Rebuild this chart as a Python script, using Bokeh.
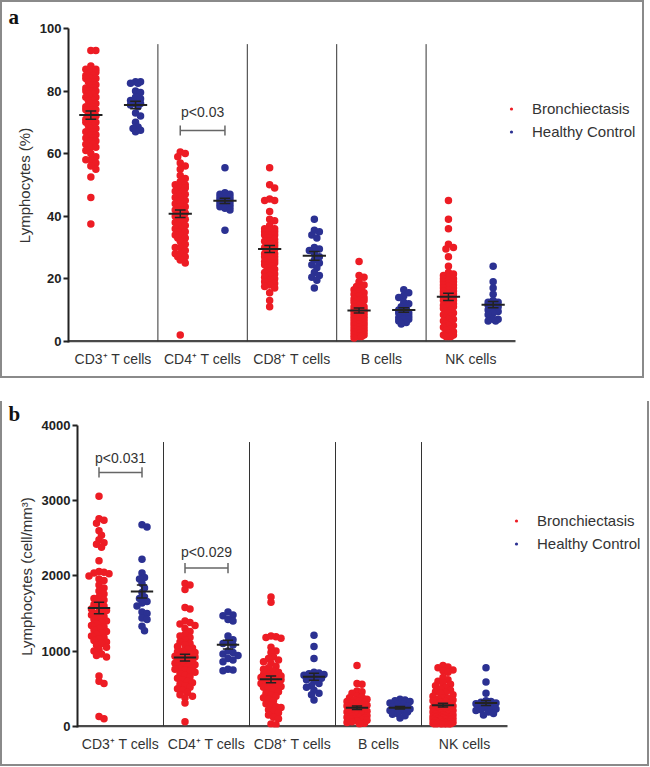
import numpy as np
from bokeh.plotting import figure
from bokeh.models import Range1d, FixedTicker, Legend, LegendItem, Label, ColumnDataSource, Title, Spacer
from bokeh.embed import file_html
from bokeh.resources import INLINE

categories = ["CD3\u207a T cells", "CD4\u207a T cells", "CD8\u207a T cells", "B cells", "NK cells"]
group_names = ["Bronchiectasis", "Healthy Control"]
group_colors = ["#ED1C24", "#2B3192"]

# ---------- panel a: percentage of lymphocytes ----------
a_cd3_br = [93, 93, 88, 87, 87, 86, 86, 85, 85, 84, 84, 84, 83, 83, 82, 82, 81, 81, 80, 80, 80, 79, 79, 78, 78, 78,
            77, 77, 76, 76, 75, 75, 74, 74, 74, 73, 73, 72, 72, 71, 71, 70, 70, 70, 69, 69, 68, 68, 67, 67, 66, 66,
            65, 65, 64, 64, 63, 63, 62, 62, 61, 60, 59, 58, 58, 57, 56, 55, 52.5, 46, 37.5]
a_cd3_hc = [83, 83, 82.5, 82.5, 80, 79.5, 78, 77.5, 77, 76, 76, 75.5, 75, 73, 72, 70, 68.5, 68, 67.5, 67]
a_cd4_br = [60.5, 60, 59, 57, 56, 55, 53, 52, 51, 50, 50, 49, 49, 48, 48, 47, 47, 46, 46, 46, 45, 45, 45, 44, 44,
            44, 43, 43, 43, 42, 42, 42, 41, 41, 41, 40, 40, 40, 39, 39, 39, 38, 38, 38, 37, 37, 36, 36, 35, 35, 34,
            34, 33, 33, 32, 31, 30, 30, 29, 28, 28, 27, 27, 26, 25, 2]
a_cd4_hc = [55.5, 47.5, 47, 47, 46.5, 46, 46, 45.5, 45, 45, 44.5, 44, 44, 43.5, 43, 43, 42.5, 42, 35.5]
a_cd8_br = [55.5, 50, 49, 45.5, 45, 45, 41.5, 39, 38.5, 37, 36, 36, 35.5, 35, 35, 34, 34, 34, 33, 33, 33, 32.5, 32,
            32, 31.5, 31, 31, 31, 30.5, 30, 30, 29.5, 29, 29, 28.5, 28, 28, 27.5, 27, 27, 26.5, 26, 25.5, 25, 25,
            24.5, 24, 23.5, 23, 22.5, 22, 21.5, 21, 20.5, 20, 19.5, 19, 18.5, 18, 17.5, 17, 15.5, 13, 11]
a_cd8_hc = [39, 35.5, 35, 34, 33, 30, 29.5, 29, 28, 27, 26, 25, 24.5, 23.5, 22, 21, 20.5, 19.5, 17]
a_b_br = [25.5, 21, 20.5, 19, 18, 17.5, 17, 16.5, 16, 15.5, 15, 14.5, 14, 13.5, 13, 13, 12.5, 12, 12, 11.5, 11, 11,
          10.5, 10, 10, 9.5, 9, 9, 8.5, 8, 8, 7.5, 7, 7, 6.5, 6, 6, 5.5, 5, 5, 4.5, 4, 4, 3.5, 3, 3, 2.5, 2, 2,
          1.5, 1.5, 1]
a_b_hc = [16.5, 15.5, 14.5, 14, 12.5, 12, 11, 10.5, 10, 9.5, 9, 9, 8.5, 8, 7.5, 7, 7, 6.5, 6, 5.5]
a_nk_br = [45, 39, 36, 31, 30, 29.5, 27, 24, 22, 21.5, 21, 20.5, 20, 20, 19.5, 19, 19, 18.5, 18, 18, 17.5, 17, 17,
           16.5, 16, 16, 15.5, 15, 15, 14.5, 14, 14, 13.5, 13, 13, 12.5, 12, 11.5, 11, 11, 10.5, 10, 9.5, 9, 9, 8.5,
           8, 7.5, 7, 7, 6.5, 6, 5.5, 5, 5, 4.5, 4, 3.5, 3, 2.5, 2, 2, 1.5, 1.5, 1.5]
a_nk_hc = [24, 19, 17, 15, 13, 12.5, 12.5, 12, 12, 11.5, 11, 10.5, 10, 9.5, 9, 8.5, 7, 7, 6.5, 6.5]

# ---------- panel b: absolute counts (cell/mm3) ----------
b_cd3_br = [3060, 2760, 2740, 2700, 2600, 2540, 2480, 2440, 2420, 2380, 2200, 2060, 2050, 2040, 2030, 2000, 1960,
            1940, 1880, 1840, 1800, 1760, 1720, 1700, 1680, 1650, 1620, 1600, 1580, 1560, 1540, 1520, 1500, 1480,
            1460, 1440, 1420, 1400, 1380, 1360, 1340, 1320, 1300, 1280, 1260, 1240, 1220, 1200, 1180, 1160, 1140,
            1120, 1100, 1080, 1050, 1020, 1000, 960, 940, 920, 670, 600, 570, 130, 100]
b_cd3_hc = [2680, 2650, 2220, 2040, 1980, 1960, 1900, 1840, 1780, 1720, 1700, 1660, 1640, 1600, 1520, 1500, 1440,
            1420, 1330, 1270]
b_cd4_br = [1900, 1880, 1820, 1580, 1560, 1400, 1380, 1360, 1340, 1300, 1260, 1220, 1200, 1180, 1150, 1120, 1100,
            1080, 1060, 1040, 1020, 1000, 990, 980, 960, 950, 940, 930, 920, 900, 890, 880, 870, 860, 850, 840, 830,
            820, 810, 800, 790, 780, 770, 760, 750, 740, 720, 700, 680, 660, 640, 620, 600, 580, 560, 540, 520, 500,
            480, 450, 420, 400, 380, 310, 60]
b_cd4_hc = [1520, 1480, 1470, 1420, 1400, 1200, 1150, 1120, 1100, 1080, 1000, 980, 960, 940, 900, 880, 860, 760,
            750, 740]
b_cd8_br = [1720, 1650, 1200, 1190, 1180, 1170, 1050, 1000, 980, 920, 900, 880, 860, 840, 800, 780, 760, 740, 720,
            700, 690, 680, 670, 660, 650, 640, 630, 620, 610, 600, 590, 580, 570, 560, 550, 540, 530, 520, 500, 480,
            460, 440, 420, 400, 380, 360, 340, 300, 280, 260, 250, 220, 200, 180, 150, 120, 100, 30, 20]
b_cd8_hc = [1210, 1060, 900, 720, 710, 700, 690, 680, 660, 650, 640, 620, 600, 570, 540, 520, 480, 440, 420, 350]
b_b_br = [810, 570, 560, 470, 460, 440, 400, 390, 380, 360, 350, 340, 330, 320, 310, 300, 290, 280, 270, 260, 250,
          240, 230, 220, 210, 200, 200, 190, 180, 180, 170, 160, 150, 150, 140, 130, 120, 120, 110, 100, 100, 90, 80,
          70, 60, 50, 40, 30]
b_b_hc = [360, 350, 340, 330, 310, 300, 290, 270, 260, 250, 240, 230, 220, 210, 200, 190, 170, 160, 140, 110]
b_nk_br = [810, 790, 780, 750, 740, 720, 650, 620, 600, 580, 560, 540, 520, 500, 480, 460, 450, 440, 420, 400, 380,
           370, 360, 350, 340, 330, 320, 310, 300, 290, 280, 270, 260, 250, 240, 240, 230, 220, 220, 210, 200, 200,
           190, 180, 180, 170, 160, 160, 150, 150, 140, 130, 130, 120, 120, 120, 110, 100, 100, 100, 90, 90, 80,
           80, 70, 60, 60, 50, 50, 40, 40, 30, 30, 20, 20, 15]
b_nk_hc = [780, 590, 440, 340, 330, 320, 310, 300, 290, 280, 270, 260, 250, 240, 230, 220, 210, 190, 170, 150]

a_br = [a_cd3_br, a_cd4_br, a_cd8_br, a_b_br, a_nk_br]
a_hc = [a_cd3_hc, a_cd4_hc, a_cd8_hc, a_b_hc, a_nk_hc]
b_br = [b_cd3_br, b_cd4_br, b_cd8_br, b_b_br, b_nk_br]
b_hc = [b_cd3_hc, b_cd4_hc, b_cd8_hc, b_b_hc, b_nk_hc]

a_ticks = [0, 20, 40, 60, 80, 100]
b_ticks = [0, 1000, 2000, 3000, 4000]

a_pvalues = ["p<0.03"]
a_pgroups = [1]
b_pvalues = ["p<0.031", "p<0.029"]
b_pgroups = [0, 1]

FONT = "Liberation Sans"
NCAT = len(categories)


def swarm(values, xpx, ypx, d=5.0, maxw=5.0, step=2.5):
    vals = np.asarray(values, dtype=float)
    order = np.argsort(-vals, kind="stable")
    n_steps = int(round(maxw / step))
    cands = [0.0]
    for j in range(1, n_steps + 1):
        cands += [j * step, -j * step]
    placed = []
    offs = np.zeros(len(vals))
    for i in order:
        yv = vals[i] * ypx
        best_c, best_d = 0.0, -1.0
        chosen = None
        for c in cands:
            md = 1e9
            for (px, py) in placed:
                if abs(py - yv) < d:
                    md = min(md, np.hypot(c - px, yv - py))
            if md >= d:
                chosen = c
                break
            if md > best_d + 1e-9:
                best_d, best_c = md, c
        if chosen is None:
            chosen = best_c
        offs[i] = chosen
        placed.append((chosen, yv))
    return offs / xpx


def make_panel(br, hc, ticks, ymin, ymax, sep_top, ylabel, width, height, mbl, mbr, mbt, mbb,
               data_right_px, pvals, pgroups, bracket_y, text_y, tick_h, letter, letter_offset,
               legend_loc, maxw):
    frame_w = width - mbl - mbr
    frame_h = height - mbt - mbb
    xpx = (data_right_px - mbl) / float(NCAT)      # pixels per category
    xmax = frame_w / xpx                            # frame extends right for the legend
    ypx = frame_h / float(ymax - ymin)

    p = figure(width=width, height=height, output_backend="svg", toolbar_location=None,
               x_range=Range1d(0, xmax), y_range=Range1d(ymin, ymax),
               min_border_left=mbl, min_border_right=mbr, min_border_top=mbt, min_border_bottom=mbb)
    p.grid.visible = False
    p.outline_line_color = None
    p.background_fill_color = None
    p.border_fill_color = None

    p.title = Title(text=letter, align="left", offset=letter_offset, standoff=0,
                    text_font="Liberation Serif", text_font_style="bold", text_font_size="21px",
                    text_color="#111111")

    # x axis: category labels only; the axis line is drawn over the categories' span
    xa = p.xaxis[0]
    xa.ticker = FixedTicker(ticks=[i + 0.5 for i in range(NCAT)])
    xa.major_label_overrides = {i + 0.5: c for i, c in enumerate(categories)}
    xa.major_tick_line_color = None
    xa.major_tick_out = 0
    xa.major_tick_in = 0
    xa.minor_tick_line_color = None
    xa.axis_line_color = None
    xa.major_label_text_font = FONT
    xa.major_label_text_font_size = "14px"
    xa.major_label_text_color = "#333333"
    xa.major_label_standoff = 8
    p.segment(x0=[0], y0=[0], x1=[NCAT], y1=[0], line_color="#4a4a4a", line_width=2.5)

    ya = p.yaxis[0]
    ya.ticker = FixedTicker(ticks=ticks)
    ya.minor_tick_line_color = None
    ya.axis_line_width = 2
    ya.axis_line_color = "#222222"
    ya.major_tick_line_width = 2
    ya.major_tick_line_color = "#222222"
    ya.major_tick_out = 5
    ya.major_tick_in = 0
    ya.major_label_text_font = FONT
    ya.major_label_text_font_style = "bold"
    ya.major_label_text_font_size = "13px"
    ya.major_label_text_color = "#222222"
    ya.major_label_standoff = 2
    ya.axis_label = ylabel
    ya.axis_label_text_font = FONT
    ya.axis_label_text_font_style = "normal"
    ya.axis_label_text_font_size = "15px"
    ya.axis_label_text_color = "#333333"
    ya.axis_label_standoff = 4

    # separators between categories
    seps = list(range(1, NCAT))
    p.segment(x0=seps, y0=[0] * len(seps), x1=seps, y1=[sep_top] * len(seps),
              line_color="#333333", line_width=1)

    renderers = []
    for gi, (data, color, shift) in enumerate([(br, group_colors[0], 0.25), (hc, group_colors[1], 0.75)]):
        xs, ys = [], []
        means, sems, centers = [], [], []
        for ci, vals in enumerate(data):
            offs = swarm(vals, xpx, ypx, maxw=maxw)
            xs += list(ci + shift + offs)
            ys += list(vals)
            arr = np.asarray(vals, dtype=float)
            means.append(arr.mean())
            sems.append(arr.std(ddof=1) / np.sqrt(len(arr)))
            centers.append(ci + shift)
        src = ColumnDataSource(dict(x=xs, y=ys))
        r = p.scatter("x", "y", source=src, size=7.5, fill_color=color, line_color=None)
        renderers.append(r)
        means = np.array(means); sems = np.array(sems); centers = np.array(centers)
        # SEM bars
        p.segment(x0=centers, y0=means - sems, x1=centers, y1=means + sems, line_color="#222222", line_width=1.5)
        p.segment(x0=centers - 0.06, y0=means - sems, x1=centers + 0.06, y1=means - sems,
                  line_color="#222222", line_width=1.5)
        p.segment(x0=centers - 0.06, y0=means + sems, x1=centers + 0.06, y1=means + sems,
                  line_color="#222222", line_width=1.5)
        # mean line
        p.segment(x0=centers - 0.13, y0=means, x1=centers + 0.13, y1=means, line_color="#222222", line_width=2)

    # significance brackets
    for txt, g, by, ty in zip(pvals, pgroups, bracket_y, text_y):
        p.segment(x0=[g + 0.25], y0=[by], x1=[g + 0.75], y1=[by], line_color="#666666", line_width=1.5)
        p.segment(x0=[g + 0.25, g + 0.75], y0=[by - tick_h] * 2, x1=[g + 0.25, g + 0.75], y1=[by + tick_h] * 2,
                  line_color="#666666", line_width=1.5)
        p.add_layout(Label(x=g + 0.5, y=ty, text=txt, text_align="center", text_baseline="middle",
                           text_font=FONT, text_font_size="14px", text_color="#333333"))

    legend = Legend(items=[LegendItem(label=group_names[0], renderers=[renderers[0]]),
                           LegendItem(label=group_names[1], renderers=[renderers[1]])],
                    location=legend_loc)
    legend.background_fill_alpha = 0
    legend.border_line_color = None
    legend.label_text_font = FONT
    legend.label_text_font_size = "15px"
    legend.label_text_color = "#333333"
    legend.glyph_width = 8
    legend.glyph_height = 17
    legend.label_standoff = 17
    legend.label_height = 17
    legend.spacing = 6
    legend.padding = 0
    legend.margin = 0
    p.add_layout(legend)
    return p


pa = make_panel(a_br, a_hc, a_ticks, -0.4, 100, 95, "Lymphocytes (%)", 644, 378, 68, 2, 28, 36, 515,
                a_pvalues, a_pgroups, [67.4], [73.2], 1.6, "a", -60, (439, 202), 5.0)
pa.styles = {"outline": "2px solid #8a8a8a", "outline-offset": "-2px"}

gap = Spacer(width=10, height=20)

pb = make_panel(b_br, b_hc, b_ticks, -16, 4000, 3780, "Lymphocytes (cell/mm\u00b3)", 649, 368, 77, 2, 27, 39, 507,
                b_pvalues, b_pgroups, [3376, 2104], [3566, 2317], 68, "b", -69, (435, 175), 9.0)
pb.styles = {"outline": "2px solid #8a8a8a", "outline-offset": "-2px", "clip-path": "inset(3px 0 0 0)"}

open("out.html", "w").write(file_html([pa, gap, pb], INLINE))
